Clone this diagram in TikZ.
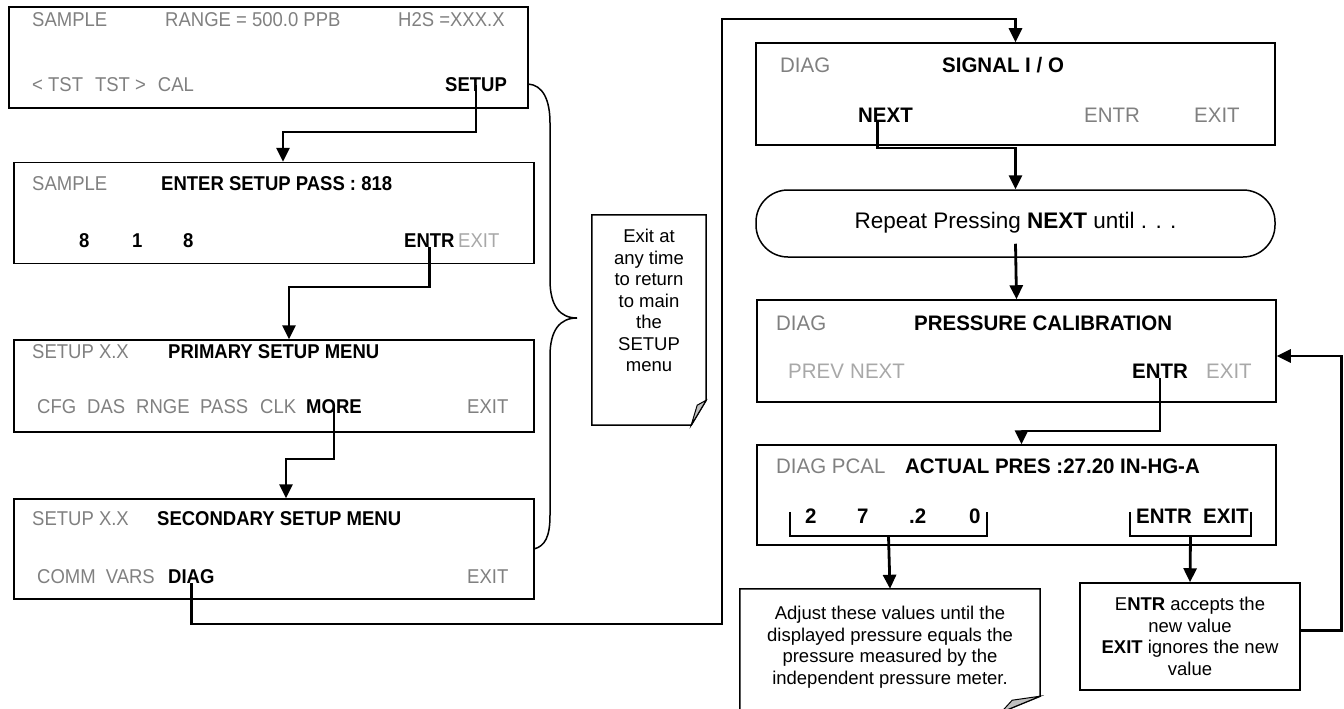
\documentclass[tikz,border=0pt]{standalone}
\usepackage{fontspec}
\setmainfont{Liberation Sans}
\newfontfamily\lcdfont{Liberation Sans}[FakeStretch=0.925]
\newfontfamily\lcdwide{Liberation Sans}[FakeStretch=0.975]
\usetikzlibrary{arrows.meta,calc}
\definecolor{dimtext}{RGB}{128,128,128}
\definecolor{faintext}{RGB}{168,168,168}
\definecolor{foldgray}{RGB}{192,192,192}

\begin{document}
\begin{tikzpicture}[
    x=1pt, y=-1pt,
    font=\lcdfont\fontsize{20}{23}\selectfont,
    lcd/.style={draw, line width=1.5pt, inner sep=0pt, minimum width=520pt, minimum height=101pt},
    bubble/.style={lcd, rounded corners=32pt, minimum height=67pt},
    key/.style={anchor=base west, inner sep=0pt},
    dim/.style={key, text=dimtext},
    faint/.style={key, text=faintext},
    hot/.style={key, execute at begin node=\bfseries},
    bigfont/.style={font=\lcdwide\fontsize{21}{24}\selectfont},
    notetxt/.style={inner sep=0pt, align=center, font=\fontsize{18.5}{21.5}\selectfont},
    notebox/.style={inner sep=0pt},
    noteline/.style={line width=1.5pt, fill=white},
    fold/.style={line width=1pt, fill=foldgray},
    brk/.style={line width=1.6pt},
    bracecurve/.style={line width=1.5pt},
    arr/.style={-{Triangle[width=13pt,length=14pt]}, line width=2.8pt}
  ]

  \clip (0,0) rectangle (1344,709);

  % ---------- left column: setup menus -------------------------------------
  \node[lcd, minimum width=519pt] (b1) at (268.5,57.5) {};
  \node[dim] (b1mode)  at (32,27)  {SAMPLE};
  \node[dim] (b1range) at (165,27) {RANGE = 500.0 PPB};
  \node[dim] (b1conc)  at (398,27) {H2S =XXX.X};
  \node[dim] (b1tst)   at (32,92)  {< TST\hspace{0.6em}TST >\hspace{0.6em}CAL};
  \node[hot] (b1setup) at (445,92) {SETUP};

  \node[lcd] (b2) at (274,213) {};
  \node[dim] (b2mode) at (32,190)  {SAMPLE};
  \node[hot] (b2pass) at (161,190) {ENTER SETUP PASS : 818};
  \foreach \d/\x [count=\i] in {8/79,1/132,8/183}
    \node[hot] (b2dig\i) at (\x,247) {\d};
  \node[hot]   (b2entr) at (404,247) {ENTR};
  \node[faint] (b2exit) at (458,247) {EXIT};

  \node[lcd, minimum height=92pt] (b3) at (274,386) {};
  \node[dim] (b3mode)  at (32,358)  {SETUP X.X};
  \node[hot] (b3title) at (168,358) {PRIMARY SETUP MENU};
  \foreach \w/\x in {CFG/37,DAS/87,RNGE/136,PASS/200,CLK/260}
    \node[dim] (b3\w) at (\x,413) {\w};
  \node[hot] (b3more) at (306,413) {MORE};
  \node[dim] (b3exit) at (467,413) {EXIT};

  \node[lcd, minimum height=100pt] (b4) at (274,549) {};
  \node[dim] (b4mode)  at (32,525)  {SETUP X.X};
  \node[hot] (b4title) at (157,525) {SECONDARY SETUP MENU};
  \node[dim] (b4comm)  at (37,583)  {COMM\hspace{0.5em}VARS};
  \node[hot] (b4diag)  at (168,583) {DIAG};
  \node[dim] (b4exit)  at (467,583) {EXIT};

  % brace over the four setup screens, pointing at the exit note
  \draw[bracecurve] (528,84) .. controls (543,85) and (550,100) .. (550,123)
    -- (550,280) .. controls (550,306) and (560,318) .. (577,318)
    .. controls (560,318) and (550,330) .. (550,356)
    -- (550,515) .. controls (550,537) and (545,546) .. (534,549);

  \node[notebox, minimum width=114pt, minimum height=210pt] (noteExit) at (649,320) {};
  \draw[noteline] (noteExit.north west) -- (noteExit.north east)
    -- ([yshift=25pt]noteExit.south east) -- ([xshift=-15pt]noteExit.south east)
    -- (noteExit.south west) -- cycle;
  \draw[fold] ([yshift=25pt]noteExit.south east) -- ([xshift=-15pt]noteExit.south east)
    -- ([xshift=-9pt,yshift=20pt]noteExit.south east) -- cycle;
  \node[notetxt, anchor=north] (exitText) at (649,229)
    {Exit at\\ any time\\ to return\\ to main\\ the\\ SETUP\\ menu};

  % ---------- right column: diagnostics ------------------------------------
  \begin{scope}[bigfont]
    \node[lcd, minimum width=519pt, minimum height=102pt] (b5) at (1015.5,94) {};
    \node[dim] (b5mode)  at (780,73)   {DIAG};
    \node[hot] (b5title) at (942,73)   {SIGNAL I / O};
    \node[hot] (b5next)  at (858,122)  {NEXT};
    \node[dim] (b5entr)  at (1084,122) {ENTR};
    \node[dim] (b5exit)  at (1194,122) {EXIT};

    \node[bubble, minimum width=519pt] (rep) at (1015.5,223.5) {};
    \node[key, anchor=base, font=\fontsize{22.5}{26}\selectfont] (repText) at (1015.5,228)
      {Repeat Pressing \textbf{NEXT} until . . .};

    \node[lcd, minimum width=519pt, minimum height=102pt] (b6) at (1016.5,351) {};
    \node[dim]   (b6mode)  at (776,330)  {DIAG};
    \node[hot]   (b6title) at (914,330)  {PRESSURE CALIBRATION};
    \node[faint] (b6prev)  at (788,378)  {PREV\hspace{0.3em}NEXT};
    \node[hot]   (b6entr)  at (1132,378) {ENTR};
    \node[faint] (b6exit)  at (1206,378) {EXIT};

    \node[lcd, minimum width=519pt, minimum height=100pt] (b7) at (1016.5,495) {};
    \node[dim] (b7mode)  at (776,473) {DIAG PCAL};
    \node[hot] (b7title) at (905,473) {ACTUAL PRES :27.20 IN-HG-A};
    \foreach \d/\x [count=\i] in {2/805,7/857,.2/909,0/969}
      \node[hot] (b7dig\i) at (\x,523) {\d};
    \node[hot] (b7entr) at (1136,523) {ENTR};
    \node[hot] (b7exit) at (1203,523) {EXIT};
  \end{scope}

  % brackets under the digits and under ENTR / EXIT
  \node[notebox, minimum width=197pt, minimum height=24pt] (valbrk) at (888.5,524) {};
  \node[notebox, minimum width=121pt, minimum height=24pt] (keybrk) at (1190.5,524) {};
  \draw[brk] (valbrk.north west) -- (valbrk.south west) -- (valbrk.south east) -- (valbrk.north east);
  \draw[brk] (keybrk.north west) -- (keybrk.south west) -- (keybrk.south east) -- (keybrk.north east);

  % ---------- notes --------------------------------------------------------
  \node[notebox, minimum width=300pt, minimum height=123pt] (noteAdj) at (890,650.5) {};
  \draw[noteline] (noteAdj.north west) -- (noteAdj.north east)
    -- ([yshift=16pt]noteAdj.south east) -- ([xshift=-39pt]noteAdj.south east)
    -- (noteAdj.south west) -- cycle;
  \draw[fold] ([yshift=16pt]noteAdj.south east) -- ([xshift=-39pt]noteAdj.south east)
    -- ([xshift=-28pt,yshift=12pt]noteAdj.south east) -- cycle;
  \node[notetxt, anchor=north] (adjText) at (890,606)
    {Adjust these values until the\\ displayed pressure equals the\\
     pressure measured by the\\ independent pressure meter.};

  \node[lcd, minimum width=220pt, minimum height=107pt, align=center,
        font=\fontsize{18.5}{21.7}\selectfont] (noteKeys) at (1190,636.5)
    {E\textbf{NTR} accepts the\\ new value\\ \textbf{EXIT} ignores the new\\ value};

  % ---------- key presses --------------------------------------------------
  \draw[arr] (b1setup.center) -- (b1setup.center |- 0,132) -| ([xshift=9pt]b2.north);
  \draw[arr] (b2entr.south) -- (b2entr.south |- 0,287) -| ([xshift=15pt]b3.north);
  \draw[arr] (b3more.center) -- (b3more.center |- 0,459) -| ([xshift=12pt]b4.north);
  \draw[arr] (b4diag.south) |- (722,624) -- (722,19) -| (b5.north);
  \draw[arr] ([xshift=-8pt]b5next.south) -- ([xshift=-8pt]b5next.south |- 0,148) -| (rep.north);
  \draw[arr] ([yshift=14pt]rep.south) -- (b6.north);
  \draw[arr] (b6entr.south) -- (b6entr.south |- 0,431) -| ([xshift=5pt]b7.north);
  \draw[arr] (valbrk.south) -- (noteAdj.north);
  \draw[arr] (keybrk.south) -- (noteKeys.north);
  \draw[arr] ([yshift=6pt]noteKeys.east) -- ++(41,0) |- ([yshift=-5pt]b6.east);

\end{tikzpicture}
\end{document}
